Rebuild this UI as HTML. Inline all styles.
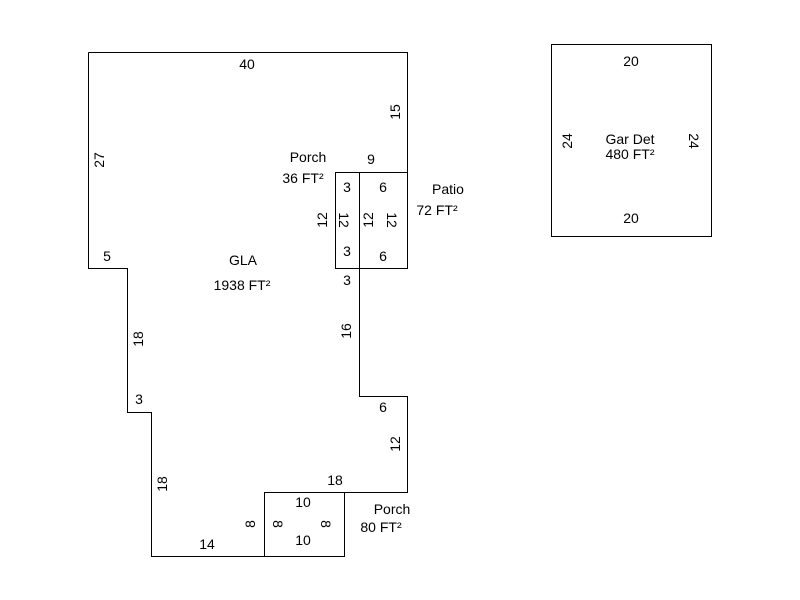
<!DOCTYPE html>
<html><head><style>body{margin:0;background:#fff}svg{display:block}text{font-family:"Liberation Sans",Arial,sans-serif;font-size:14px;fill:#000}</style></head><body>
<svg width="800" height="600" viewBox="0 0 800 600">
<g fill="none" stroke="#000" stroke-width="1">
<path d="M88.5 52.5H407.5V268.5M407.5 172.5H359.5V396.5H407.5V492.5H264.5M88.5 52.5V268.5H127.5V412.5H151.5V556.5H264.5"/>
<rect x="335.5" y="172.5" width="24" height="96"/>
<rect x="359.5" y="172.5" width="48" height="96"/>
<rect x="264.5" y="492.5" width="80" height="64"/>
<rect x="551.5" y="44.5" width="160" height="192"/>
</g>
<g text-anchor="middle">
<text x="247" y="69">40</text>
<text x="371" y="164">9</text>
<text x="308" y="162">Porch</text>
<text x="303" y="183">36 FT²</text>
<text x="448" y="194">Patio</text>
<text x="437" y="215">72 FT²</text>
<text x="347" y="192">3</text>
<text x="347" y="256">3</text>
<text x="383" y="192">6</text>
<text x="383" y="261">6</text>
<text x="347" y="285">3</text>
<text x="107" y="261">5</text>
<text x="243" y="265">GLA</text>
<text x="242" y="290">1938 FT²</text>
<text x="139" y="404">3</text>
<text x="383" y="412">6</text>
<text x="335" y="485">18</text>
<text x="303" y="507">10</text>
<text x="303" y="545">10</text>
<text x="207" y="549">14</text>
<text x="392" y="514">Porch</text>
<text x="381" y="532">80 FT²</text>
<text x="631" y="66">20</text>
<text x="631" y="223">20</text>
<text x="630" y="144">Gar Det</text>
<text x="630" y="159">480 FT²</text>
<text transform="translate(104,160) rotate(-90)">27</text>
<text transform="translate(400,112) rotate(-90)">15</text>
<text transform="translate(327,220) rotate(-90)">12</text>
<text transform="translate(339,220) rotate(90)">12</text>
<text transform="translate(373,220) rotate(-90)">12</text>
<text transform="translate(387,220) rotate(90)">12</text>
<text transform="translate(351,331) rotate(-90)">16</text>
<text transform="translate(143,339) rotate(-90)">18</text>
<text transform="translate(400,444) rotate(-90)">12</text>
<text transform="translate(167,484) rotate(-90)">18</text>
<text transform="translate(255,524) rotate(-90)">8</text>
<text transform="translate(273,524) rotate(90)">8</text>
<text transform="translate(321,524) rotate(90)">8</text>
<text transform="translate(572,141) rotate(-90)">24</text>
<text transform="translate(689,141) rotate(90)">24</text>
</g>
</svg>
</body></html>
